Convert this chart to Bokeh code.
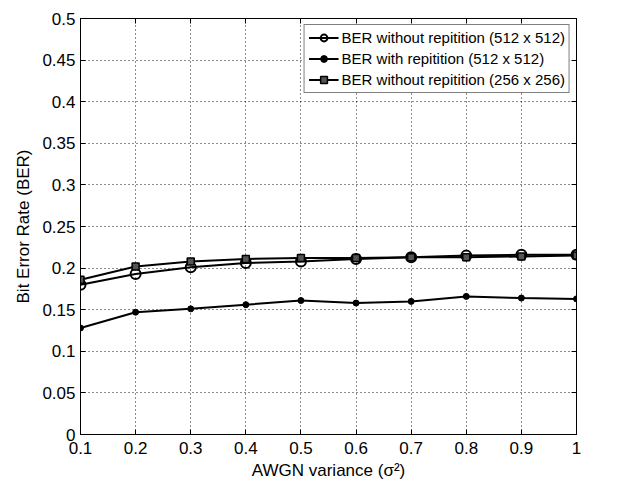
from bokeh.plotting import figure
from bokeh.models import LinearAxis, Range1d, FixedTicker, Legend, LegendItem
from bokeh.embed import file_html
from bokeh.resources import INLINE

x = [0.1, 0.2, 0.3, 0.4, 0.5, 0.6, 0.7, 0.8, 0.9, 1.0]
ber_512_no_rep = [0.180, 0.193, 0.201, 0.206, 0.208, 0.211, 0.213, 0.215, 0.216, 0.216]
ber_512_rep = [0.128, 0.147, 0.151, 0.156, 0.161, 0.158, 0.160, 0.166, 0.164, 0.163]
ber_256_no_rep = [0.186, 0.202, 0.208, 0.211, 0.212, 0.212, 0.213, 0.213, 0.214, 0.215]

x_ticks = [0.1, 0.2, 0.3, 0.4, 0.5, 0.6, 0.7, 0.8, 0.9, 1.0]
y_ticks = [0, 0.05, 0.1, 0.15, 0.2, 0.25, 0.3, 0.35, 0.4, 0.45, 0.5]
x_labels = {0.1: "0.1", 0.2: "0.2", 0.3: "0.3", 0.4: "0.4", 0.5: "0.5", 0.6: "0.6",
            0.7: "0.7", 0.8: "0.8", 0.9: "0.9", 1.0: "1"}
y_labels = {0: "0", 0.05: "0.05", 0.1: "0.1", 0.15: "0.15", 0.2: "0.2", 0.25: "0.25",
            0.3: "0.3", 0.35: "0.35", 0.4: "0.4", 0.45: "0.45", 0.5: "0.5"}

FONT = "Liberation Sans"

p = figure(width=610, height=486, output_backend="svg", toolbar_location=None,
           x_range=Range1d(0.1, 1.0), y_range=Range1d(0, 0.5),
           min_border_left=80, min_border_top=18, min_border_right=34, min_border_bottom=52)
p.outline_line_color = "black"
p.outline_line_width = 1

for ax in (p.xaxis[0], p.yaxis[0]):
    ax.major_tick_in = 5
    ax.major_tick_out = 0
    ax.minor_tick_line_color = None
    ax.major_label_text_font = FONT
    ax.major_label_text_font_size = "17px"
    ax.major_label_text_color = "black"
    ax.axis_label_text_font = FONT
    ax.axis_label_text_font_size = "17px"
    ax.axis_label_text_font_style = "normal"
    ax.axis_label_text_color = "black"
    ax.axis_line_color = "black"
    ax.major_tick_line_color = "black"

p.xaxis[0].ticker = FixedTicker(ticks=x_ticks)
p.yaxis[0].ticker = FixedTicker(ticks=y_ticks)
p.xaxis[0].major_label_overrides = x_labels
p.yaxis[0].major_label_overrides = y_labels
p.xaxis[0].axis_label = "AWGN variance (σ²)"
p.yaxis[0].axis_label = "Bit Error Rate (BER)"
p.xaxis[0].major_label_standoff = 7
p.yaxis[0].major_label_standoff = 5
p.xaxis[0].axis_label_standoff = 4
p.yaxis[0].axis_label_standoff = 6

top = LinearAxis(ticker=FixedTicker(ticks=x_ticks), major_tick_in=5, major_tick_out=0,
                 minor_tick_line_color=None, axis_line_color="black",
                 major_label_overrides={t: "" for t in x_ticks}, major_label_standoff=0)
right = LinearAxis(ticker=FixedTicker(ticks=y_ticks), major_tick_in=5, major_tick_out=0,
                   minor_tick_line_color=None, axis_line_color="black",
                   major_label_overrides={t: "" for t in y_ticks}, major_label_standoff=0)
p.add_layout(top, "above")
p.add_layout(right, "right")

p.xgrid.ticker = FixedTicker(ticks=x_ticks)
p.ygrid.ticker = FixedTicker(ticks=y_ticks)
for g in (p.xgrid[0], p.ygrid[0]):
    g.grid_line_color = "black"
    g.grid_line_dash = "1 3"
    g.grid_line_width = 1
    g.grid_line_alpha = 0.9

l1 = p.line(x, ber_512_no_rep, line_color="black", line_width=2)
m1 = p.scatter(x, ber_512_no_rep, marker="circle", size=10, line_color="black",
               fill_color="white", fill_alpha=0.0, line_width=2)
l2 = p.line(x, ber_512_rep, line_color="black", line_width=2)
m2 = p.scatter(x, ber_512_rep, marker="circle", size=6, line_color="black",
               fill_color="black", line_width=1)
l3 = p.line(x, ber_256_no_rep, line_color="black", line_width=2)
m3 = p.scatter(x, ber_256_no_rep, marker="square", size=7, line_color="black",
               fill_color="#555555", line_width=1.5)

legend = Legend(items=[
    LegendItem(label="BER without repitition (512 x 512)", renderers=[l1, m1]),
    LegendItem(label="BER with repitition (512 x 512)", renderers=[l2, m2]),
    LegendItem(label="BER without repitition (256 x 256)", renderers=[l3, m3]),
], location="top_right")
legend.label_text_font = FONT
legend.label_text_font_size = "15px"
legend.label_text_color = "black"
legend.label_height = 17
legend.glyph_height = 17
legend.glyph_width = 30
legend.spacing = 4
legend.padding = 4
legend.margin = 6
legend.label_standoff = 3
legend.border_line_color = "black"
legend.border_line_width = 1
legend.background_fill_alpha = 1.0
p.add_layout(legend, "center")

open("out.html", "w").write(file_html(p, INLINE))
